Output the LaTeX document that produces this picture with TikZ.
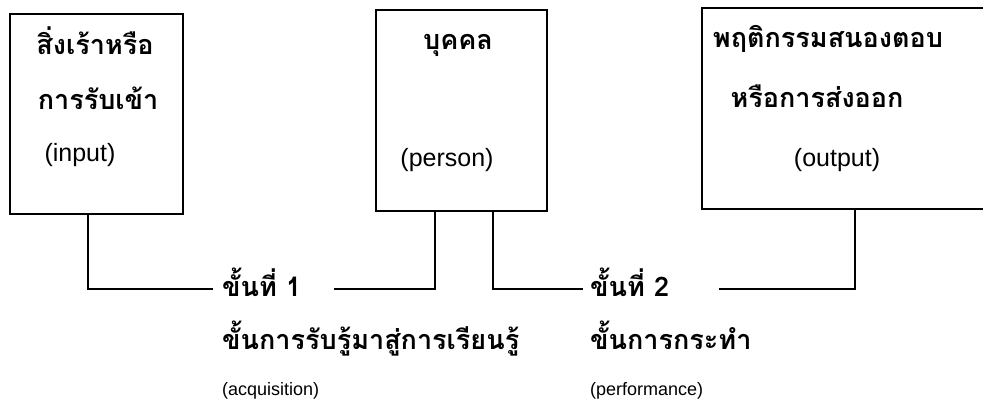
\documentclass[tikz,border=0pt]{standalone}
\usepackage{fontspec}
\setmainfont{Liberation Sans}
\newfontfamily\thaifont[Script=Thai]{Loma}
\usetikzlibrary{positioning}
\tikzstyle{box}=[draw, line width=1.5pt, rectangle, inner sep=0pt]
\tikzstyle{thai}=[font=\thaifont\bfseries\fontsize{27}{31}\selectfont, anchor=base, inner sep=0pt]
\tikzstyle{thaistep}=[thai, anchor=base west]
\tikzstyle{latin}=[font=\fontsize{25}{29}\selectfont, anchor=base, inner sep=0pt]
\tikzstyle{latinstep}=[latin, font=\fontsize{18}{22}\selectfont, anchor=base west]
\tikzstyle{link}=[line width=1.5pt]

\begin{document}
\begin{tikzpicture}[x=1pt, y=-1pt]
    \useasboundingbox (0,0) rectangle (983,419);
    \clip (0,0) rectangle (983,419);

    % the three boxes
    \node[box, minimum width=173pt, minimum height=200pt] (inbox)  at (96.5,114)  {};
    \node[box, minimum width=171pt, minimum height=201pt] (person) at (461.5,110.5) {};
    \node[box, minimum width=310pt, minimum height=201pt] (outbox) at (857,108.5) {};

    \node[thai]  (in1)  at (95,55)   {สิ่งเร้าหรือ};
    \node[thai]  (in2)  at (98,110)  {การรับเข้า};
    \node[latin] (in3)  at (80,162)  {(input)};
    \node[thai]  (per1) at (458,50)  {บุคคล};
    \node[latin] (per2) at (447,167) {(person)};
    \node[thai]  (out1) at (828,48)  {พฤติกรรมสนองตอบ};
    \node[thai]  (out2) at (817,108) {หรือการส่งออก};
    \node[latin] (out3) at (837,167) {(output)};

    % the two steps
    \node[thaistep]  (step1) at (222,297) {ขั้นที่ 1};
    \node[thaistep]  (acq1)  at (222,350) {ขั้นการรับรู้มาสู่การเรียนรู้};
    \node[latinstep] (acq2)  at (222,396) {(acquisition)};
    \node[thaistep]  (step2) at (590,297) {ขั้นที่ 2};
    \node[thaistep]  (perf1) at (590,350) {ขั้นการกระทำ};
    \node[latinstep] (perf2) at (590,396) {(performance)};

    \draw[link] ([xshift=-8.5pt]inbox.south) |- ([xshift=-9pt, yshift=8pt]step1.base west);
    \draw[link] ([xshift=33pt, yshift=8pt]step1.base east) -| ([xshift=-26.5pt]person.south);
    \draw[link] ([xshift=31.5pt]person.south) |- ([xshift=-7pt, yshift=8pt]step2.base west);
    \draw[link] ([xshift=50pt, yshift=8pt]step2.base east) -| ([xshift=-2pt]outbox.south);
\end{tikzpicture}
\end{document}
